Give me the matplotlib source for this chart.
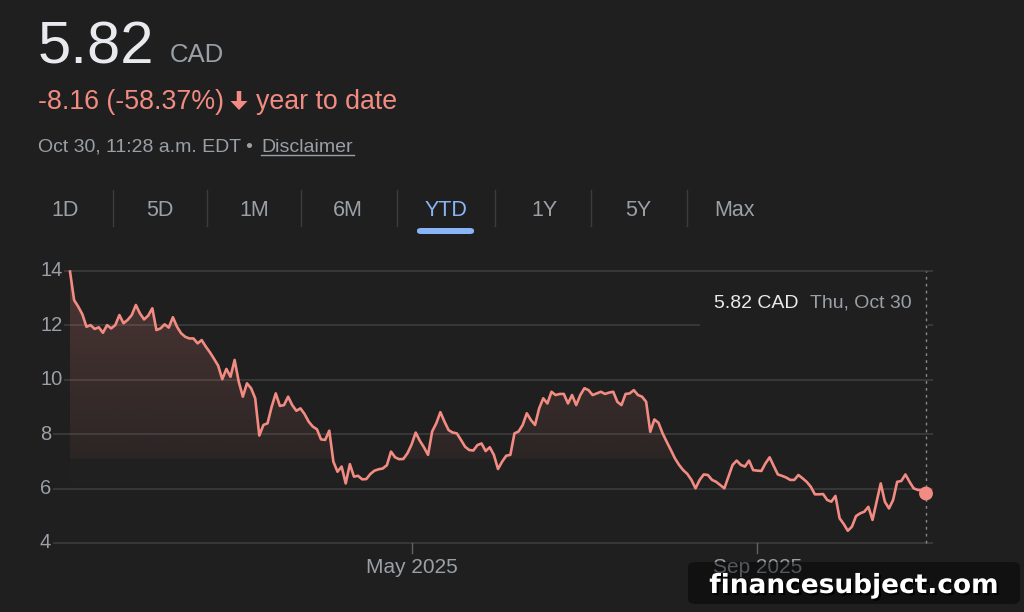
import numpy as np
import pandas as pd
import matplotlib
matplotlib.use("Agg")
import matplotlib.pyplot as plt
import matplotlib.patheffects as pe
from matplotlib.patches import Polygon, Rectangle, FancyBboxPatch, FancyArrow
from matplotlib.lines import Line2D

plt.rcParams['font.family'] = ['Liberation Sans', 'DejaVu Sans']

# TSX trading days, YTD 2025
holidays = ["2025-02-17", "2025-04-18", "2025-05-19", "2025-07-01",
            "2025-08-04", "2025-09-01", "2025-10-13"]
dates = pd.bdate_range("2025-01-02", "2025-10-30", freq="C", holidays=holidays)

prices = [
    13.98, 12.93, 12.69, 12.41, 11.95, 12.01, 11.87, 11.93, 11.73, 12.01,
    11.89, 12.01, 12.38, 12.08, 12.20, 12.38, 12.75, 12.44, 12.22, 12.36,
    12.63, 11.83, 11.89, 12.04, 11.92, 12.30, 11.95, 11.71, 11.58, 11.52,
    11.52, 11.34, 11.46, 11.22, 11.01, 10.77, 10.52, 10.02, 10.40, 10.11,
    10.73, 9.93, 9.38, 9.87, 9.69, 9.32, 7.95, 8.34, 8.40, 9.01,
    9.50, 9.04, 9.07, 9.38, 9.07, 8.86, 8.95, 8.74, 8.46, 8.28,
    8.18, 7.81, 7.79, 8.13, 6.99, 6.62, 6.81, 6.19, 6.90, 6.44,
    6.47, 6.34, 6.35, 6.54, 6.66, 6.71, 6.74, 6.86, 7.36, 7.15,
    7.08, 7.09, 7.30, 7.62, 8.06, 7.76, 7.52, 7.24, 8.10, 8.40,
    8.81, 8.46, 8.15, 8.06, 8.03, 7.79, 7.54, 7.42, 7.40, 7.60,
    7.66, 7.38, 7.52, 7.24, 6.72, 6.99, 7.21, 7.24, 8.03, 8.10,
    8.34, 8.77, 8.52, 8.34, 8.95, 9.32, 9.13, 9.56, 9.44, 9.48,
    9.48, 9.13, 9.44, 9.07, 9.44, 9.69, 9.62, 9.44, 9.50, 9.56,
    9.48, 9.53, 9.56, 9.19, 9.07, 9.48, 9.50, 9.62, 9.44, 9.38,
    9.19, 8.09, 8.54, 8.42, 8.03, 7.72, 7.42, 7.11, 6.87, 6.68,
    6.54, 6.32, 6.01, 6.32, 6.52, 6.50, 6.32, 6.25, 6.13, 6.01,
    6.44, 6.87, 7.03, 6.87, 6.81, 7.03, 6.68, 6.66, 6.65, 6.93,
    7.15, 6.83, 6.52, 6.47, 6.41, 6.32, 6.32, 6.50, 6.38, 6.25,
    6.07, 5.79, 5.79, 5.80, 5.58, 5.52, 5.73, 4.91, 4.70, 4.45,
    4.60, 4.99, 5.09, 5.15, 5.33, 4.85, 5.52, 6.19, 5.52, 5.27,
    5.58, 6.25, 6.28, 6.52, 6.25, 6.01, 5.95, 5.95, 5.82,
]
y_ticks = [4, 6, 8, 10, 12, 14]
x_tick_months = ["2025-05", "2025-09"]
tabs = ["1D", "5D", "1M", "6M", "YTD", "1Y", "5Y", "Max"]
active_tab = "YTD"

BG = "#1f1f1f"
RED = "#f28b82"
GRID = "#3a3a3a"
GRAY = "#9aa0a6"
W, H = 1024, 612

fig = plt.figure(figsize=(W / 100, H / 100), dpi=100, facecolor=BG)


def px(x, y):
    return x / W, 1 - y / H


# header
fig.text(*px(38, 63), "5.82", fontsize=43, color="#e8eaed", va="baseline")
fig.text(*px(170, 62), "CAD", fontsize=18.5, color=GRAY, va="baseline")
fig.text(*px(38, 109), "-8.16 (-58.37%)", fontsize=19.3, color=RED, va="baseline")
# bold down arrow, drawn in display pixels
fig.add_artist(FancyArrow(239, H - 91, 0, -19, width=4.5, head_width=17, head_length=9,
                          length_includes_head=True, transform=None,
                          facecolor=RED, edgecolor="none"))
fig.text(*px(256, 109), "year to date", fontsize=19.3, color=RED, va="baseline")
fig.text(*px(38, 152), "Oct 30, 11:28 a.m. EDT \u2022", fontsize=14, color=GRAY, va="baseline")
fig.text(*px(261, 152), "Disclaimer", fontsize=14, color=GRAY, va="baseline")
fig.add_artist(Line2D([261 / W, 354 / W], [1 - 155 / H] * 2, color=GRAY, lw=1))

# range tabs
tab_x = [65, 160, 254, 348, 446, 544, 638, 735]
for i, (t, xc) in enumerate(zip(tabs, tab_x)):
    c = "#8ab4f8" if t == active_tab else GRAY
    fig.text(*px(xc, 216), t, fontsize=15.5, color=c, ha="center", va="baseline")
    if i < len(tabs) - 1:
        sx = (xc + tab_x[i + 1]) / 2
        fig.add_artist(Line2D([sx / W] * 2, [1 - 190 / H, 1 - 226 / H], color="#3c3c3c", lw=1))
    if t == active_tab:
        fig.add_artist(FancyBboxPatch((417 / W, 1 - 234 / H), 57 / W, 6 / H,
                                      boxstyle="round,pad=0,rounding_size=0.004",
                                      facecolor="#8ab4f8", edgecolor="none"))

# chart axes (pixel box 53..933 x 266..548)
ax = fig.add_axes([53 / W, 1 - 548 / H, 880 / W, 282 / H])
ax.set_facecolor(BG)
x = np.arange(len(prices))
vals = np.array(prices)
x0, x1 = -17 / 4.115, 208 + 7 / 4.115
y0, y1 = 4 - 5 / 27.2, 14 + 5 / 27.2

# gradient fill under the line
floor = 6.1
edge = 7.08
rows = np.linspace(floor, 14.2, 300)
alpha = np.where(rows > edge, 0.06 + (rows - edge) * 0.023, 0.015)
img = np.zeros((len(rows), 1, 4))
img[:, 0, :3] = matplotlib.colors.to_rgb(RED)
img[:, 0, 3] = alpha
im = ax.imshow(img, origin="lower", aspect="auto", extent=[x[0], x[-1], floor, 14.2], zorder=1)
clip = Polygon(np.column_stack([np.r_[x, x[::-1]], np.r_[vals, np.full(len(x), floor)]]),
               closed=True, facecolor="none", edgecolor="none", transform=ax.transData)
ax.add_patch(clip)
im.set_clip_path(clip)

for v in y_ticks:
    ax.axhline(v, color=GRID, lw=1.3, zorder=0.5)
    ax.text(-13 / 880, v, str(v), transform=ax.get_yaxis_transform(), ha="left", va="center",
            fontsize=14.5, color=GRAY, zorder=3,
            bbox=dict(facecolor=BG, edgecolor="none", pad=1))

# tooltip box
ax.add_patch(Rectangle(((700 - 53) / 880, (548 - 327) / 282), 228 / 880, 47 / 282,
                       transform=ax.transAxes, facecolor=BG, edgecolor="none", zorder=2))
ax.text((714 - 53) / 880, (548 - 308) / 282, "5.82 CAD", transform=ax.transAxes,
        fontsize=14, color="#e8eaed", va="baseline", zorder=3)
ax.text((810 - 53) / 880, (548 - 308) / 282, "Thu, Oct 30", transform=ax.transAxes,
        fontsize=14, color=GRAY, va="baseline", zorder=3)

ax.plot(x, vals, color=RED, lw=1.9, zorder=4, solid_joinstyle="round")
ax.axvline(x[-1], ymin=(548 - 543) / 282, ymax=(548 - 271) / 282, color="#8a8a8a",
           lw=1, linestyle=(0, (2, 3)), zorder=3.5)
ax.scatter([x[-1]], [vals[-1]], s=100, color=RED, zorder=5, edgecolors="none")

# month ticks
for m in x_tick_months:
    i = int(np.argmax(dates.strftime("%Y-%m") == m))
    ax.plot([i, i], [4, 4 - 10 / 27.2], color="#5f6368", lw=1, clip_on=False)
    ax.text(i, 4 - 30 / 27.2, dates[i].strftime("%b %Y"), ha="center", va="baseline",
            fontsize=15, color=GRAY)

ax.set_xlim(x0, x1)
ax.set_ylim(y0, y1)
ax.set_xticks([])
ax.set_yticks([])
for s in ax.spines.values():
    s.set_visible(False)

# watermark (semi-transparent, axis label shows through like the reference)
fig.add_artist(FancyBboxPatch((688 / W, 1 - 604 / H), 332 / W, 42 / H,
                              boxstyle="round,pad=0,rounding_size=0.008",
                              facecolor="black", alpha=0.45, edgecolor="none"))
fig.text(*px(854, 586), "financesubject.com", fontsize=19, weight="bold", family="DejaVu Sans",
         color="white", ha="center", va="center",
         path_effects=[pe.withSimplePatchShadow(offset=(1.5, -1.5), shadow_rgbFace="black", alpha=1)])

fig.savefig("out.png", dpi=100, facecolor=BG)
